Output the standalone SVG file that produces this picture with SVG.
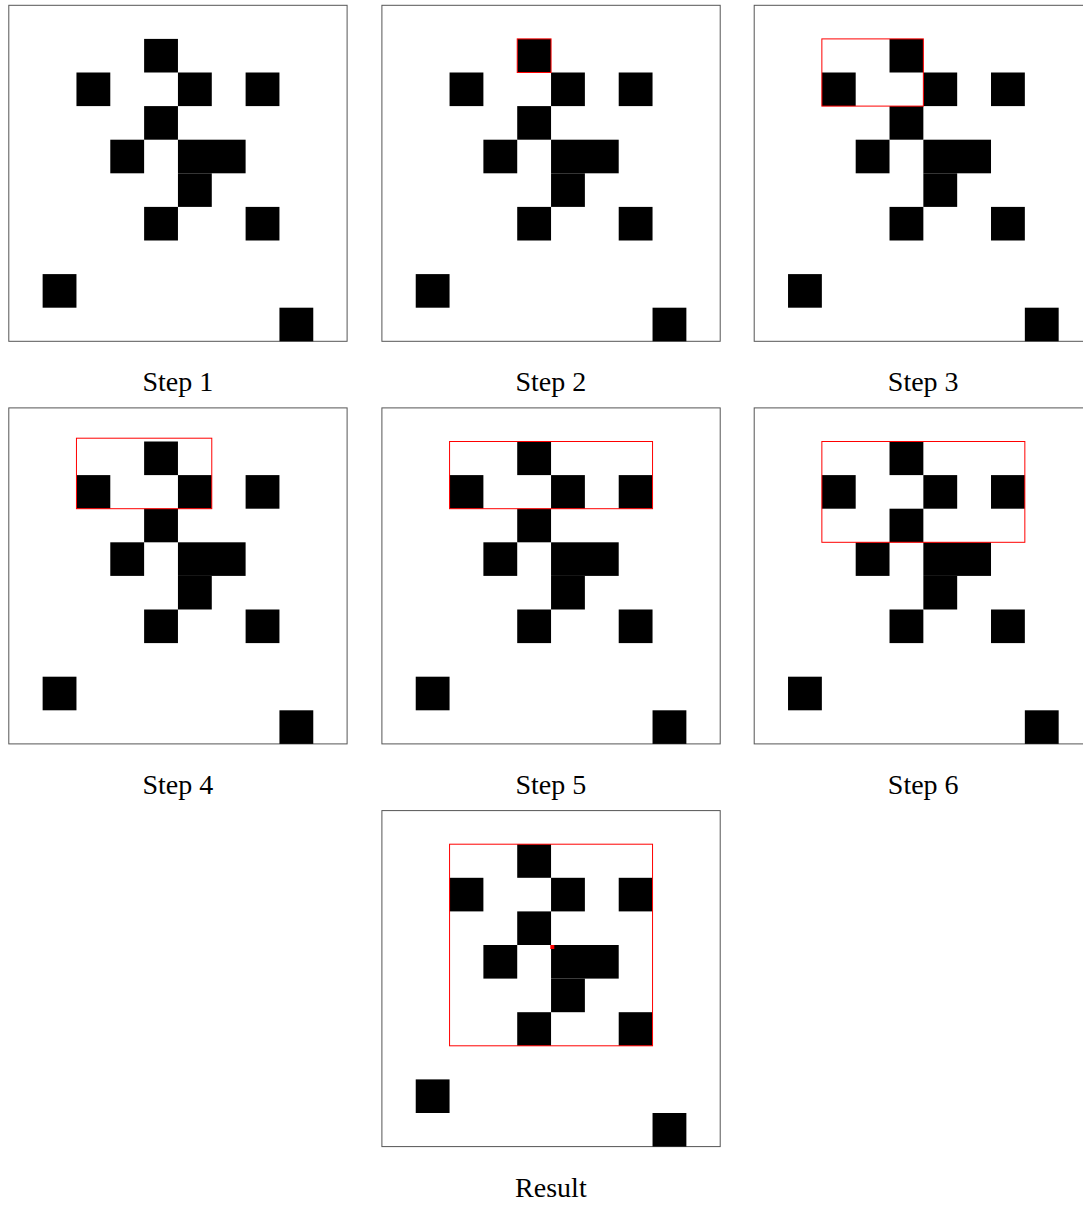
<svg xmlns="http://www.w3.org/2000/svg" xmlns:xlink="http://www.w3.org/1999/xlink" width="1083" height="1205" viewBox="0 0 1083 1205">
  <style>
    .frame { fill: #ffffff; stroke: #555555; stroke-width: 1; }
    .cell { fill: #000000; }
    .hl { fill: none; stroke: #ff0000; stroke-width: 1; }
    .dot { fill: #ff0000; }
    .label { font-family: "Liberation Serif", "DejaVu Serif", serif; font-size: 28px; fill: #000000; text-anchor: middle; }
  </style>
  <defs>
    <g id="grid">
      <rect class="frame" x="0" y="0" width="338.3" height="336"/>
      <rect class="cell" x="135.32" y="33.6" width="33.83" height="33.6"/>
      <rect class="cell" x="67.66" y="67.2" width="33.83" height="33.6"/>
      <rect class="cell" x="169.15" y="67.2" width="33.83" height="33.6"/>
      <rect class="cell" x="236.81" y="67.2" width="33.83" height="33.6"/>
      <rect class="cell" x="135.32" y="100.8" width="33.83" height="33.6"/>
      <rect class="cell" x="101.49" y="134.4" width="33.83" height="33.6"/>
      <rect class="cell" x="169.15" y="134.4" width="67.66" height="33.6"/>
      <rect class="cell" x="169.15" y="168" width="33.83" height="33.6"/>
      <rect class="cell" x="135.32" y="201.6" width="33.83" height="33.6"/>
      <rect class="cell" x="236.81" y="201.6" width="33.83" height="33.6"/>
      <rect class="cell" x="33.83" y="268.8" width="33.83" height="33.6"/>
      <rect class="cell" x="270.64" y="302.4" width="33.83" height="33.6"/>
    </g>
  </defs>

  <g id="step1" transform="translate(8.8,5.3)">
    <use xlink:href="#grid"/>
    <text class="label" x="169" y="386">Step 1</text>
  </g>

  <g id="step2" transform="translate(381.9,5.3)">
    <use xlink:href="#grid"/>
    <rect class="hl" x="135.32" y="33.6" width="33.83" height="33.6"/>
    <text class="label" x="169" y="386">Step 2</text>
  </g>

  <g id="step3" transform="translate(754.2,5.3)">
    <use xlink:href="#grid"/>
    <rect class="hl" x="67.66" y="33.6" width="101.49" height="67.2"/>
    <text class="label" x="169" y="386">Step 3</text>
  </g>

  <g id="step4" transform="translate(8.8,407.9)">
    <use xlink:href="#grid"/>
    <rect class="hl" x="67.66" y="30.3" width="135.32" height="70.5"/>
    <text class="label" x="169" y="386">Step 4</text>
  </g>

  <g id="step5" transform="translate(381.9,407.9)">
    <use xlink:href="#grid"/>
    <rect class="hl" x="67.66" y="33.6" width="202.98" height="67.2"/>
    <text class="label" x="169" y="386">Step 5</text>
  </g>

  <g id="step6" transform="translate(754.2,407.9)">
    <use xlink:href="#grid"/>
    <rect class="hl" x="67.66" y="33.6" width="202.98" height="100.8"/>
    <text class="label" x="169" y="386">Step 6</text>
  </g>

  <g id="result" transform="translate(381.9,810.6)">
    <use xlink:href="#grid"/>
    <rect class="hl" x="67.66" y="33.6" width="202.98" height="201.6"/>
    <rect class="dot" x="168.4" y="134.4" width="4" height="4"/>
    <text class="label" x="169" y="386">Result</text>
  </g>

  <g id="connectors"/>
</svg>
